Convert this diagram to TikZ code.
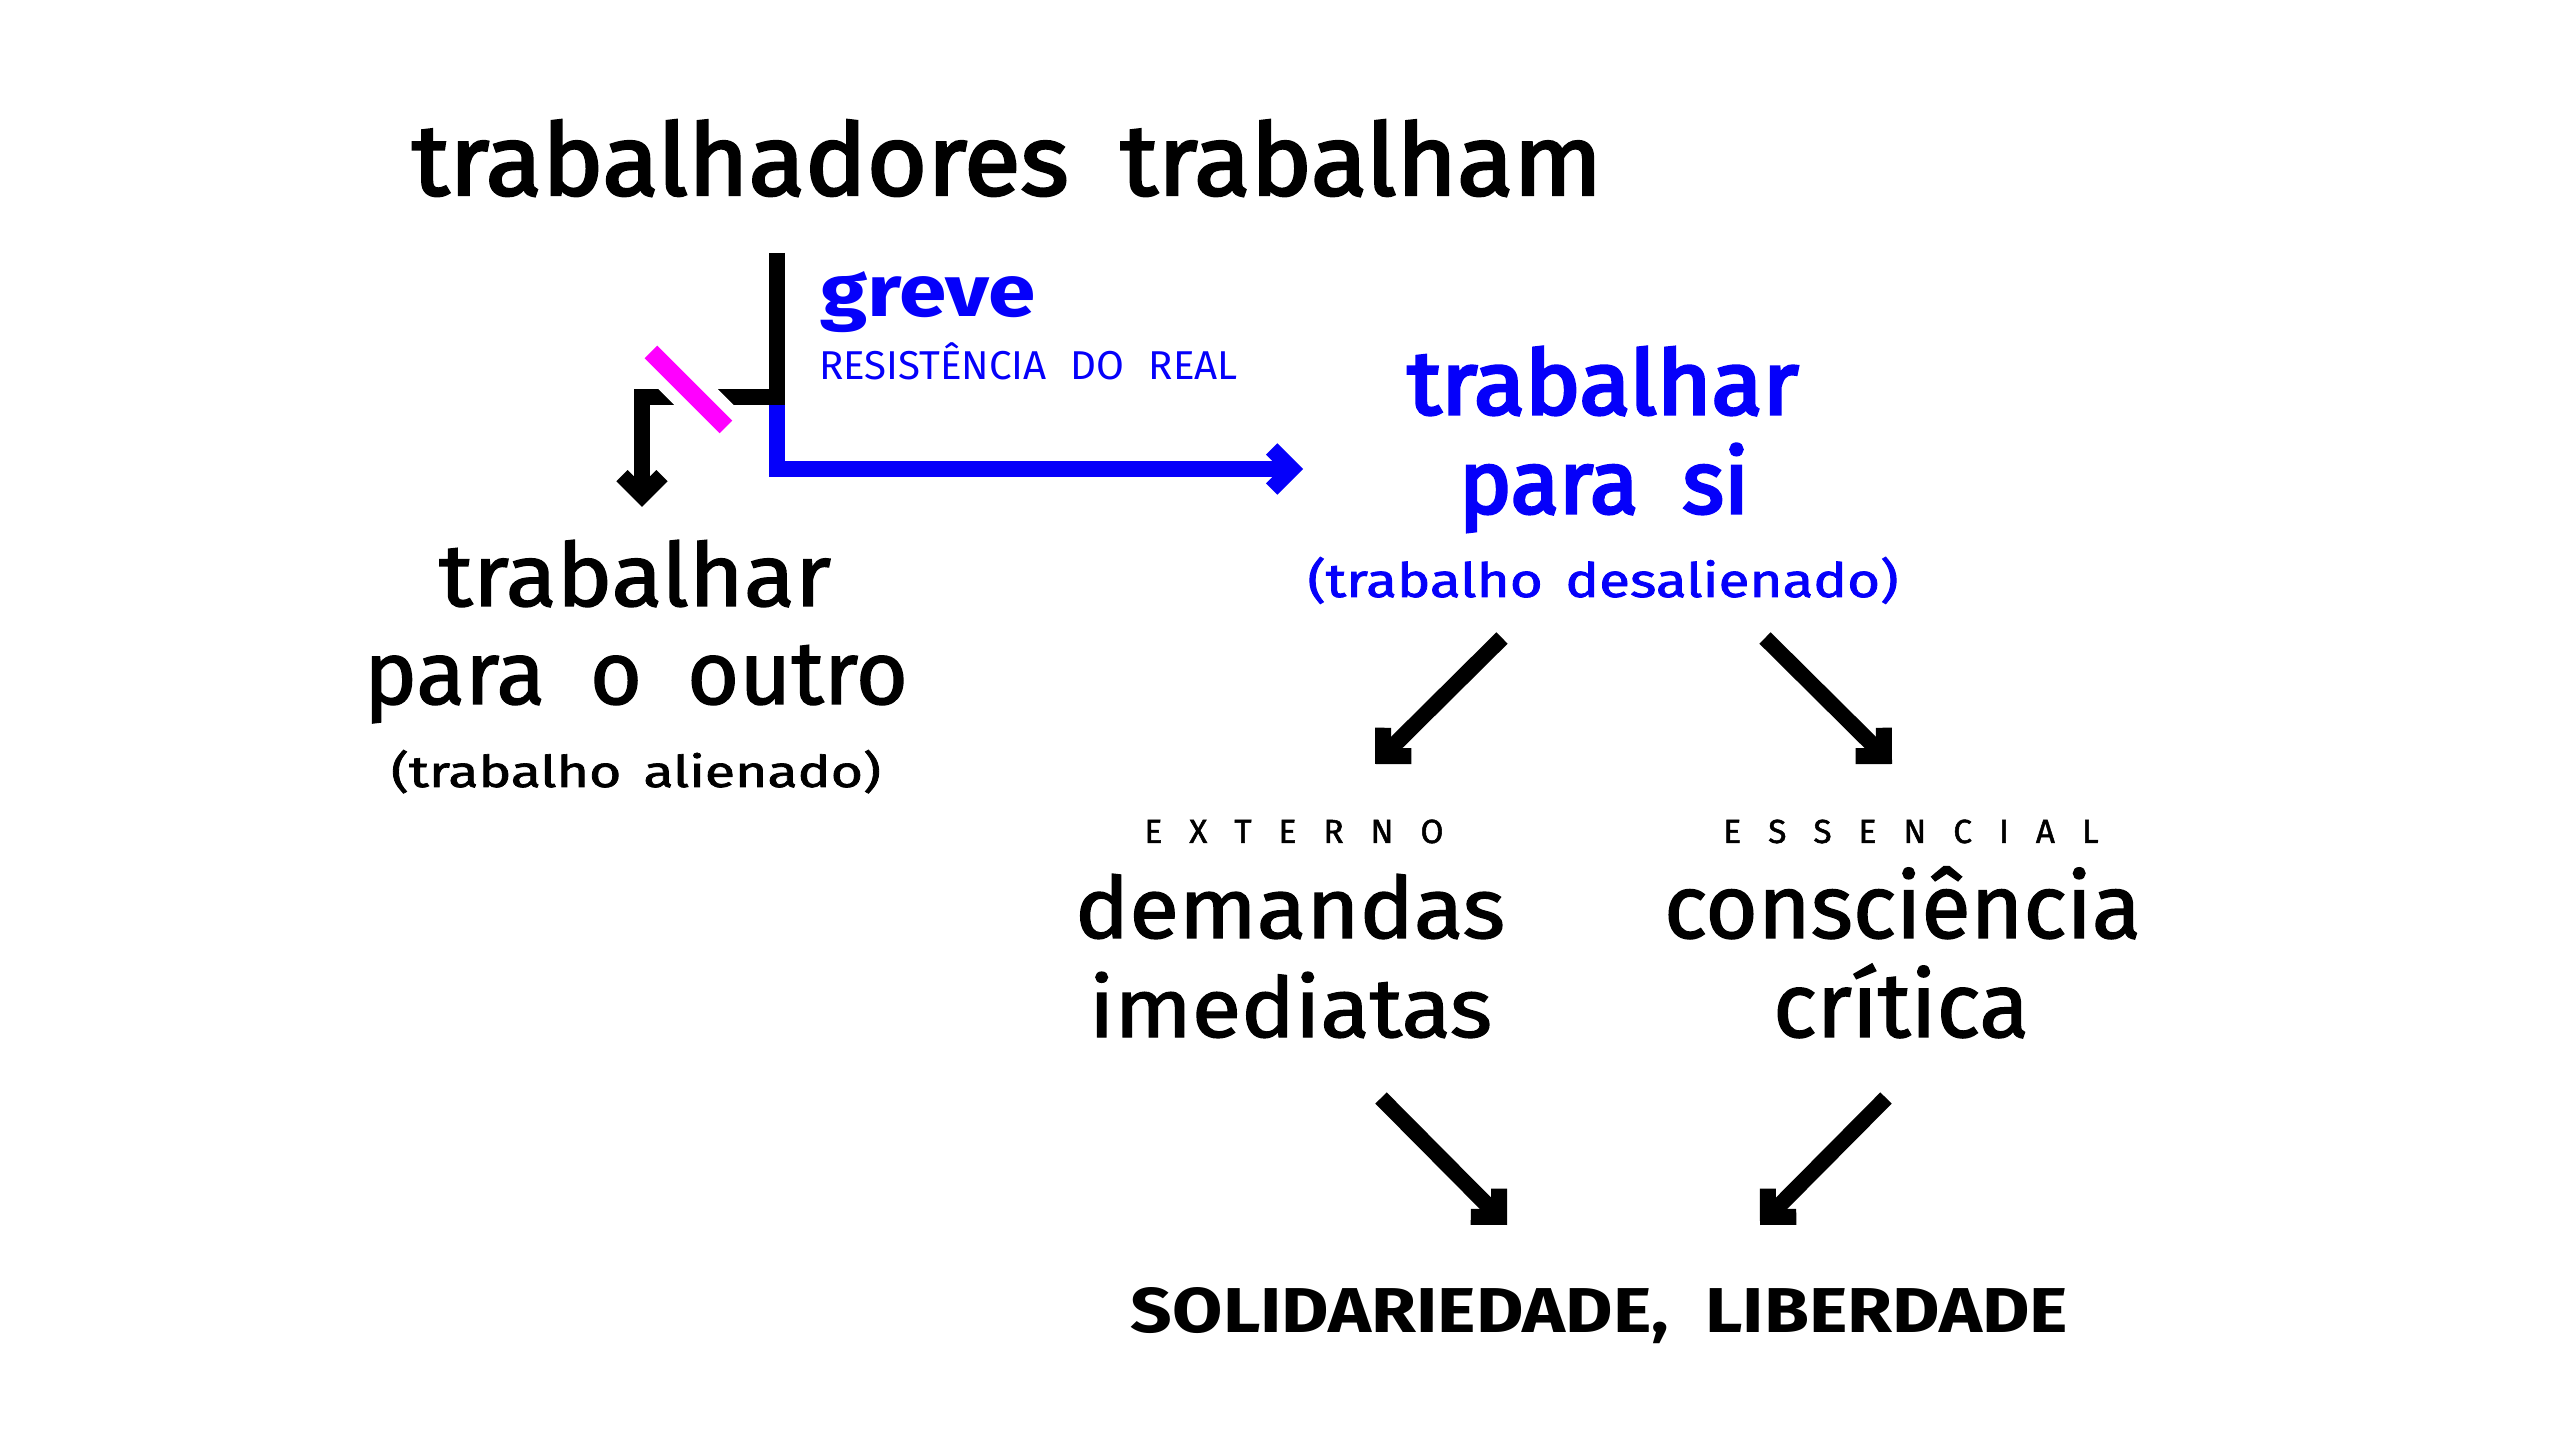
\documentclass[tikz,border=0pt]{standalone}
\usepackage{fontspec}
\setmainfont{Fira Sans}
\newfontfamily\medfont[FakeBold=1.5]{Fira Sans}
\newfontfamily\titlefont[FakeBold=2.5]{Fira Sans}
\newfontfamily\semifont[FakeBold=3.5]{Fira Sans}
\usetikzlibrary{arrows.meta}
\definecolor{strikeblue}{RGB}{5,0,250}
\definecolor{strikemag}{RGB}{255,0,255}
\newcommand{\fitwh}[3]{\resizebox{#1}{#2}{#3}}
\newcommand{\fitw}[2]{\resizebox{#1}{!}{#2}}
\begin{document}
\begin{tikzpicture}[x=0.1mm,y=-0.1mm,
  txt/.style={inner sep=0pt, outer sep=0pt, anchor=base},
  barbtip/.style={-{Straight Barb[sharp,length=2mm,width=4mm]}},
  heavy/.style={line width=1.6mm, line join=miter, line cap=butt}]
\fill[white] (0,0) rectangle (2560,1440);
\useasboundingbox (0,0) rectangle (2560,1440);

% texts
\node[txt] (title) at (1007,195) {\fontsize{28}{30}\titlefont\spaceskip=.5em\relax\fitwh{119mm}{7.5mm}{trabalhadores trabalham}};

\node[txt, text=strikeblue] (greve) at (928,317) {\fontsize{22}{24}\selectfont\bfseries\fitwh{21.6mm}{4.5mm}{greve}};
\node[txt, text=strikeblue] (resist) at (1028.5,380) {\fontsize{11}{12}\selectfont\spaceskip=.6em\relax\fitw{41.9mm}{RESISTÊNCIA DO REAL}};

\node[txt] (l1) at (635,606) {\fontsize{24}{26}\medfont\fitwh{39.2mm}{6.6mm}{trabalhar}};
\node[txt] (l2) at (636,704) {\fontsize{24}{26}\medfont\spaceskip=.5em\relax\fitw{54.4mm}{para o outro}};
\node[txt] (l3) at (636,787) {\fontsize{14}{16}\medfont\spaceskip=.4em\relax\fitwh{49mm}{3.7mm}{(trabalho alienado)}};

\node[txt, text=strikeblue] (r1) at (1603,414) {\fontsize{24}{26}\semifont\fitwh{39.1mm}{6.7mm}{trabalhar}};
\node[txt, text=strikeblue] (r2) at (1604,513) {\fontsize{24}{26}\semifont\spaceskip=.5em\relax\fitw{29mm}{para si}};
\node[txt, text=strikeblue] (r3) at (1603,597) {\fontsize{14}{16}\medfont\spaceskip=.4em\relax\fitwh{59.1mm}{4.0mm}{(trabalho desalienado)}};

\node[txt] (ext) at (1294,843) {\fontsize{9.5}{10}\medfont E\kern2.7mm X\kern2.7mm T\kern2.7mm E\kern2.7mm R\kern2.7mm N\kern2.7mm O};
\node[txt] (ess) at (1911,843) {\fontsize{9.5}{10}\medfont E\kern2.7mm S\kern2.7mm S\kern2.7mm E\kern2.7mm N\kern2.7mm C\kern2.7mm I\kern2.7mm A\kern2.7mm L};

\node[txt] (dem) at (1290,938) {\fontsize{25}{26}\medfont\fitwh{43mm}{6.4mm}{demandas}};
\node[txt] (ime) at (1290.5,1037) {\fontsize{25}{26}\medfont\fitwh{40.3mm}{6.5mm}{imediatas}};
\node[txt] (con) at (1902.5,938) {\fontsize{25}{26}\medfont\fitw{47.7mm}{consciência}};
\node[txt] (cri) at (1901,1037) {\fontsize{25}{26}\medfont\fitw{25.6mm}{crítica}};

\node[txt] (sol) at (1599.5,1332) {\fontsize{19}{20}\selectfont\bfseries\spaceskip=.5em\relax\fitwh{93.7mm}{4.5mm}{SOLIDARIEDADE, LIBERDADE}};

% connector points
\coordinate (stem) at (777,253);
\coordinate (fork) at (777,397);
\coordinate (lcorner) at (642,397);
\coordinate (ltip) at (642,507);
\coordinate (bstart) at (777,405);
\coordinate (bcorner) at (777,469);
\coordinate (btip) at (1303,469);
\coordinate (mag1) at (651,352);
\coordinate (mag2) at (726,427);

\draw[heavy, barbtip] (stem) -- (fork) -- (lcorner) -- (ltip);
\draw[heavy, strikeblue, barbtip] (bstart) -- (bcorner) -- (btip);
\draw[line width=4.2mm, white] (mag1) -- (mag2);
\draw[line width=1.8mm, strikemag] (mag1) -- (mag2);

\coordinate (d1s) at (1502,638);
\coordinate (d1e) at (1375,764);
\coordinate (d2s) at (1765,638);
\coordinate (d2e) at (1892,764);
\coordinate (d3s) at (1381,1098);
\coordinate (d3e) at (1507,1225);
\coordinate (d4s) at (1886,1098);
\coordinate (d4e) at (1760,1225);
\draw[heavy, barbtip] (d1s) -- (d1e);
\draw[heavy, barbtip] (d2s) -- (d2e);
\draw[heavy, barbtip] (d3s) -- (d3e);
\draw[heavy, barbtip] (d4s) -- (d4e);
\end{tikzpicture}
\end{document}
